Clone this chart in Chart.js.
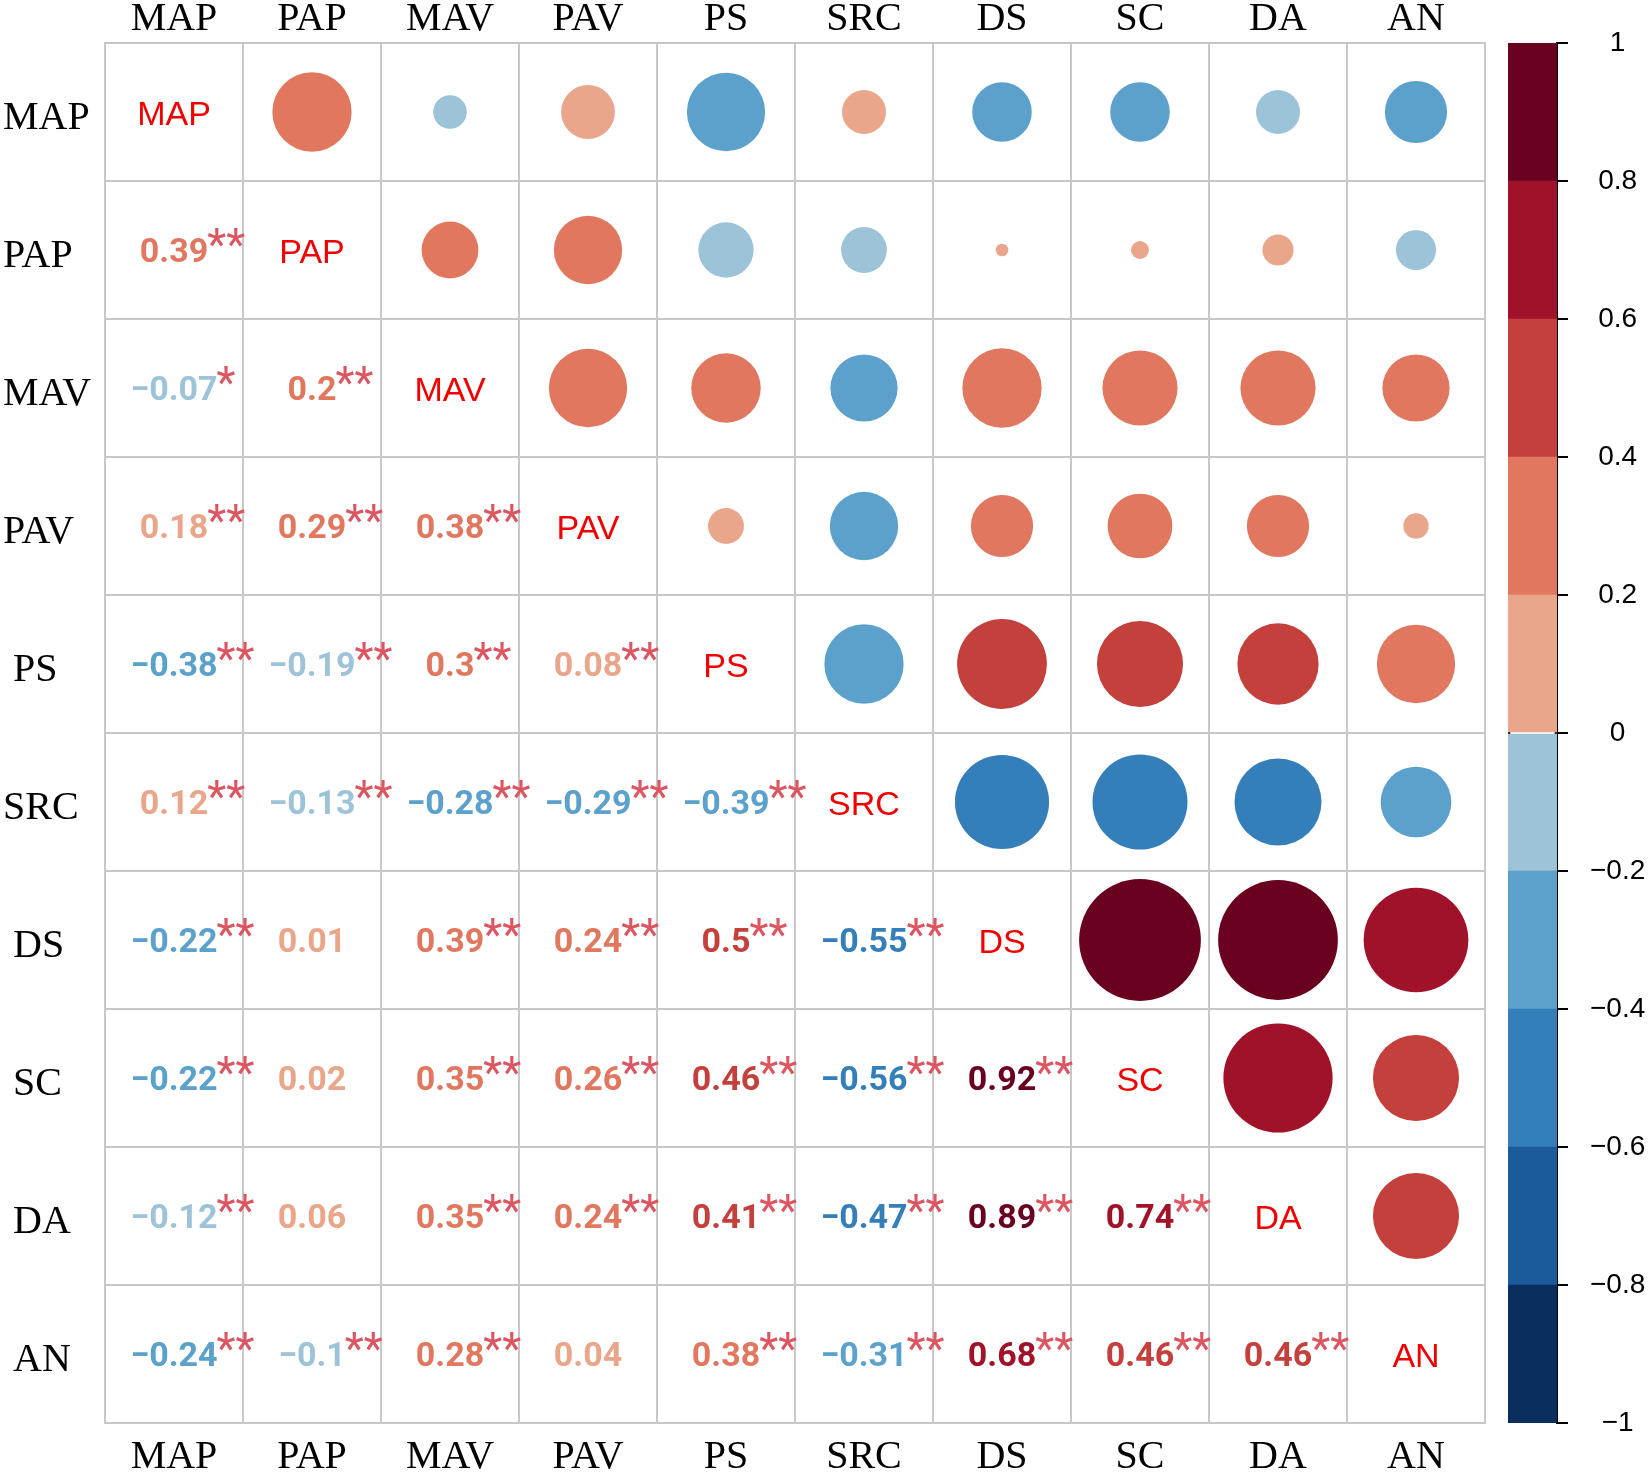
<!DOCTYPE html>
<html><head><meta charset="utf-8">
<script src="https://cdn.jsdelivr.net/npm/chart.js@4.4.1/dist/chart.umd.min.js"></script>
<style>
html,body{margin:0;padding:0;background:#fff;width:1650px;height:1472px;overflow:hidden}
#main{position:absolute;left:0;top:0}
#bar{position:absolute;left:1450px;top:0}
</style></head>
<body>
<canvas id="main" width="1650" height="1472"></canvas>
<canvas id="bar" width="200" height="1472"></canvas>
<script>
const variables = ['MAP','PAP','MAV','PAV','PS','SRC','DS','SC','DA','AN'];
// lower triangle: row i holds correlations with columns 0..i-1
const corrLower = [
  [],
  [0.39],
  [-0.07, 0.2],
  [0.18, 0.29, 0.38],
  [-0.38, -0.19, 0.3, 0.08],
  [0.12, -0.13, -0.28, -0.29, -0.39],
  [-0.22, 0.01, 0.39, 0.24, 0.5, -0.55],
  [-0.22, 0.02, 0.35, 0.26, 0.46, -0.56, 0.92],
  [-0.12, 0.06, 0.35, 0.24, 0.41, -0.47, 0.89, 0.74],
  [-0.24, -0.1, 0.28, 0.04, 0.38, -0.31, 0.68, 0.46, 0.46]
];
const sigLower = [
  [],
  ['**'],
  ['*','**'],
  ['**','**','**'],
  ['**','**','**','**'],
  ['**','**','**','**','**'],
  ['**','','**','**','**','**'],
  ['**','','**','**','**','**','**'],
  ['**','','**','**','**','**','**','**'],
  ['**','**','**','','**','**','**','**','**']
];
const bandEdges = [-1,-0.8,-0.6,-0.4,-0.2,0,0.2,0.4,0.6,0.8,1];
const bandColors = ['#0A2F5F','#1B5A9B','#347FBA','#5BA1CC','#9DC3D8','#E9A68A','#E0775E','#C4403C','#A0112A','#69001F'];
const colorbarTicks = [-1,-0.8,-0.6,-0.4,-0.2,0,0.2,0.4,0.6,0.8,1];

// layout (pixels)
const PLOT = {left: 105, top: 43, right: 1485, bottom: 1423, width: 1650, height: 1472};

function colorFor(v){
  for (let k = 0; k < bandColors.length; k++){
    if (v < bandEdges[k+1] - 1e-9 || k === bandColors.length - 1) return bandColors[k];
  }
}
function fmt(v){
  const r = Math.round(v * 100) / 100;
  if (r === 0) return '0';
  return (r < 0 ? '\u2212' : '') + String(Math.abs(r));
}

// upper triangle circles
const bubbleData = [];
for (let i = 0; i < variables.length; i++){
  for (let j = i + 1; j < variables.length; j++){
    bubbleData.push({x: variables[j], y: variables[i], v: corrLower[j][i]});
  }
}

const gridColor = '#C8C8C8';

function cellSize(chart){
  const sx = chart.scales.x;
  const c = sx ? sx.getPixelForValue(1) - sx.getPixelForValue(0) : NaN;
  return isFinite(c) && c > 0 ? c : (PLOT.right - PLOT.left) / variables.length;
}

const textPlugin = {
  id: 'corrText',
  afterDatasetsDraw(chart){
    const {ctx, scales: {x, y}} = chart;
    ctx.save();
    variables.forEach((name, i) => {
      const cy = y.getPixelForValue(i) + 3;
      ctx.textAlign = 'center';
      ctx.textBaseline = 'middle';
      ctx.font = '34px "Liberation Sans"';
      ctx.fillStyle = '#F00000';
      ctx.fillText(name, x.getPixelForValue(i), cy + 1);
      corrLower[i].forEach((v, j) => {
        const cx = x.getPixelForValue(j);
        const label = fmt(v);
        ctx.textAlign = 'center';
        ctx.textBaseline = 'middle';
        ctx.font = 'bold 34px Roboto';
        ctx.fillStyle = colorFor(v);
        ctx.fillText(label, cx, cy);
        const w = ctx.measureText(label).width;
        const s = sigLower[i][j];
        if (s){
          ctx.textAlign = 'left';
          ctx.textBaseline = 'alphabetic';
          ctx.font = '44px Roboto';
          ctx.fillStyle = '#DC5560';
          ctx.fillText(s, cx + w / 2 - 1, cy + 7);
        }
      });
    });
    ctx.restore();
  }
};

const serifFont = {family: '"Liberation Serif"', size: 40};

const mainChart = new Chart(document.getElementById('main'), {
  type: 'bubble',
  data: {
    datasets: [{
      data: bubbleData,
      backgroundColor: c => c.raw ? colorFor(c.raw.v) : '#000',
      borderWidth: 0,
      hoverBorderWidth: 0,
      radius: c => c.raw ? 0.46 * cellSize(c.chart) * Math.sqrt(Math.abs(c.raw.v)) : 0,
      clip: false
    }]
  },
  options: {
    responsive: false,
    devicePixelRatio: 1,
    animation: false,
    events: [],
    layout: {autoPadding: false, padding: {left: 3, top: 0, right: PLOT.width - PLOT.right, bottom: 0}},
    plugins: {legend: {display: false}, tooltip: {enabled: false}},
    scales: {
      x: {
        type: 'category', labels: variables, position: 'top', offset: true,
        afterFit: s => { s.height = PLOT.top; },
        grid: {offset: true, color: gridColor, lineWidth: 2, drawTicks: false},
        border: {display: true, color: gridColor, width: 2},
        ticks: {font: serifFont, color: '#000', padding: 0, maxRotation: 0, autoSkip: false}
      },
      x2: {
        type: 'category', labels: variables, position: 'bottom', offset: true,
        afterFit: s => { s.height = PLOT.height - PLOT.bottom; },
        grid: {display: false, drawTicks: false},
        border: {display: true, color: gridColor, width: 2},
        ticks: {font: serifFont, color: '#000', padding: 10, maxRotation: 0, autoSkip: false}
      },
      y: {
        type: 'category', labels: variables, position: 'left', offset: true,
        afterFit: s => { s.width = PLOT.left - 3; },
        grid: {offset: true, color: gridColor, lineWidth: 2, drawTicks: false},
        border: {display: true, color: gridColor, width: 2},
        ticks: {
          font: serifFont, color: '#000', padding: 0, crossAlign: 'far', autoSkip: false, labelOffset: 6,
          callback: (val, idx) => (variables[idx].length < 3 ? ' ' : '') + variables[idx]
        }
      }
    }
  },
  plugins: [textPlugin]
});
// re-resolve element options now that the scales are laid out
mainChart.update('none');

// colour bar
const barDatasets = bandColors.map((col, k) => ({
  data: [[bandEdges[k], bandEdges[k+1]]],
  backgroundColor: col,
  borderWidth: 0,
  grouped: false,
  barPercentage: 1,
  categoryPercentage: 1
}));
barDatasets.push({
  data: [[bandEdges[0], bandEdges[bandEdges.length-1]]],
  backgroundColor: 'rgba(0,0,0,0)',
  borderColor: '#000',
  borderWidth: 2,
  borderSkipped: false,
  grouped: false,
  barPercentage: 1,
  categoryPercentage: 1
});

new Chart(document.getElementById('bar'), {
  type: 'bar',
  data: {labels: [''], datasets: barDatasets},
  options: {
    responsive: false,
    devicePixelRatio: 1,
    animation: false,
    events: [],
    layout: {padding: {left: 58, top: PLOT.top, bottom: PLOT.height - PLOT.bottom, right: 0}},
    plugins: {legend: {display: false}, tooltip: {enabled: false}},
    scales: {
      x: {display: false},
      y: {
        position: 'right', min: -1, max: 1,
        afterBuildTicks: s => { s.ticks = colorbarTicks.map(v => ({value: v})); },
        afterFit: s => { s.width = 93; },
        grid: {drawOnChartArea: false, drawTicks: true, tickLength: 11, color: '#000', lineWidth: 2},
        border: {display: true, color: '#000', width: 2},
        ticks: {callback: v => fmt(v), font: {family: '"Liberation Sans"', size: 28}, color: '#000', padding: 22, crossAlign: 'center'}
      }
    }
  }
});
</script>
</body></html>
